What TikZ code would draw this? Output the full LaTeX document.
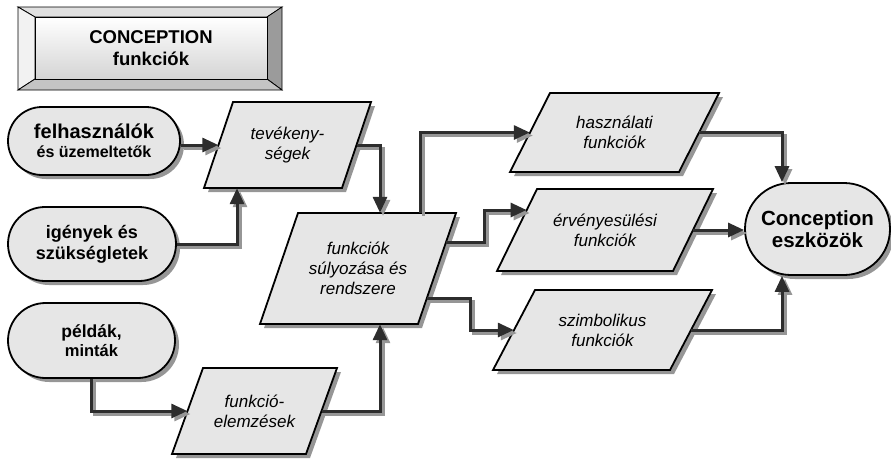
\documentclass[tikz,border=0pt]{standalone}
\usepackage{fontspec}
\setmainfont{Liberation Sans}
\usetikzlibrary{shapes.misc,shadows,arrows.meta,calc}
\definecolor{shcol}{RGB}{150,150,150}
\definecolor{boxfill}{RGB}{230,230,230}
\definecolor{linecol}{RGB}{45,45,45}
\definecolor{bevtop}{RGB}{224,224,224}
\definecolor{bevleft}{RGB}{242,242,242}
\definecolor{bevright}{RGB}{155,155,155}
\definecolor{bevbot}{RGB}{196,196,196}
\definecolor{facebot}{RGB}{212,212,212}
% #1 name, #2 cx, #3 cy, #4 midline width, #5 height, #6 half slant, #7 text
\newcommand\ppara[7]{%
  \fill[shcol] ({#2-#4/2+#6+4},{#3-#5/2+4}) -- ({#2+#4/2+#6+4},{#3-#5/2+4})
     -- ({#2+#4/2-#6+4},{#3+#5/2+4}) -- ({#2-#4/2-#6+4},{#3+#5/2+4}) -- cycle;
  \filldraw[parabox] ({#2-#4/2+#6},{#3-#5/2}) -- ({#2+#4/2+#6},{#3-#5/2})
     -- ({#2+#4/2-#6},{#3+#5/2}) -- ({#2-#4/2-#6},{#3+#5/2}) -- cycle;
  \node[paratext, minimum width=#4pt, minimum height=#5pt] (#1) at (#2,#3) {#7};
}
\newcommand\myconn[1]{\draw[cshad] #1; \draw[cline] #1;}
\begin{document}
\begin{tikzpicture}[x=1pt,y=-1pt,
  parabox/.style={fill=boxfill,draw=black,line width=1.8pt,line join=miter},
  paratext/.style={align=center,inner sep=0pt,font=\itshape\fontsize{17}{20}\selectfont},
  rnode/.style={rounded rectangle,draw=black,line width=1.8pt,fill=boxfill,align=center,inner sep=0pt,
    font=\bfseries\fontsize{16}{19}\selectfont,
    drop shadow={shadow xshift=4pt,shadow yshift=-4pt,fill=shcol,opacity=1}},
  bev/.style={draw=black,line width=0.8pt,line join=miter},
  titletext/.style={align=center,inner sep=0pt,font=\bfseries\fontsize{18.5}{22}\selectfont},
  cline/.style={draw=linecol,line width=3pt,-{Triangle[length=16pt,width=14pt]}},
  cshad/.style={draw=shcol,line width=3pt,-{Triangle[length=16pt,width=14pt]},transform canvas={shift={(3pt,-3pt)}}}]
\useasboundingbox (0,0) rectangle (891,459);

% title bevel box
\filldraw[bev,fill=bevtop] (18,7) -- (282,7) -- (267,17) -- (35,17) -- cycle;
\filldraw[bev,fill=bevleft] (18,7) -- (35,17) -- (35,79) -- (18,90) -- cycle;
\filldraw[bev,fill=bevright] (282,7) -- (282,90) -- (267,79) -- (267,17) -- cycle;
\filldraw[bev,fill=bevbot] (18,90) -- (282,90) -- (267,79) -- (35,79) -- cycle;
\shade[top color=white,bottom color=facebot] (35,17) rectangle (267,79);
\draw[bev] (35,17) rectangle (267,79);
\node[titletext, minimum width=232pt, minimum height=62pt] (title) at (151,48) {CONCEPTION\\funkciók};

% rounded nodes
\node[rnode, minimum width=172pt, minimum height=68pt] (usr) at (94,141)
  {{\fontsize{20}{19}\selectfont felhasználók}\\{\fontsize{16}{19}\selectfont és üzemeltetők}};
\node[rnode, minimum width=168pt, minimum height=74pt, font=\bfseries\fontsize{18}{21}\selectfont] (ige) at (92,244)
  {igények és\\szükségletek};
\node[rnode, minimum width=167pt, minimum height=75pt] (pel) at (91.5,340.5)
  {{\fontsize{17.5}{19}\selectfont példák,}\\{\fontsize{16.5}{19}\selectfont minták}};
\node[rnode, minimum width=145pt, minimum height=92pt, font=\bfseries\fontsize{20.5}{22.5}\selectfont] (con) at (817.5,229)
  {Conception\\eszközök};

% parallelograms
\ppara{tev}{287.5}{145}{138}{86}{14.5}{tevékeny-\\ségek}
\ppara{sul}{358}{268.5}{158}{111}{19}{funkciók\\súlyozása és\\rendszere}
\ppara{has}{614.5}{132.5}{169}{79}{20}{használati\\funkciók}
\ppara{erv}{605}{230}{176}{82}{20}{érvényesülési\\funkciók}
\ppara{szi}{602.5}{330}{177}{80}{21}{szimbolikus\\funkciók}
\ppara{elem}{254.5}{411}{134}{86}{15.5}{funkció-\\elemzések}

% connectors
\myconn{(usr.east |- tev.west) -- (tev.west)}
\myconn{(ige.east) -| ([xshift=-50.5pt]tev.south)}
\myconn{(tev.east) -| ([xshift=22pt]sul.north)}
\myconn{([xshift=62pt]sul.north) |- (has.west)}
\myconn{([shift={(9.1,-26.5)}]sul.east) -- ++(38.4,0) |- ([shift={(9.8,-20)}]erv.west)}
\myconn{([shift={(-10.1,29.5)}]sul.east) -- ++(43.6,0) |- (szi.west)}
\myconn{(pel.south) |- (elem.west)}
\myconn{(elem.east) -| ([xshift=22pt]sul.south)}
\myconn{(has.east) -| ([xshift=-35.5pt]con.north)}
\myconn{(erv.east) -- (erv.east -| con.west)}
\myconn{(szi.east) -| ([xshift=-35.5pt]con.south)}
\end{tikzpicture}
\end{document}
